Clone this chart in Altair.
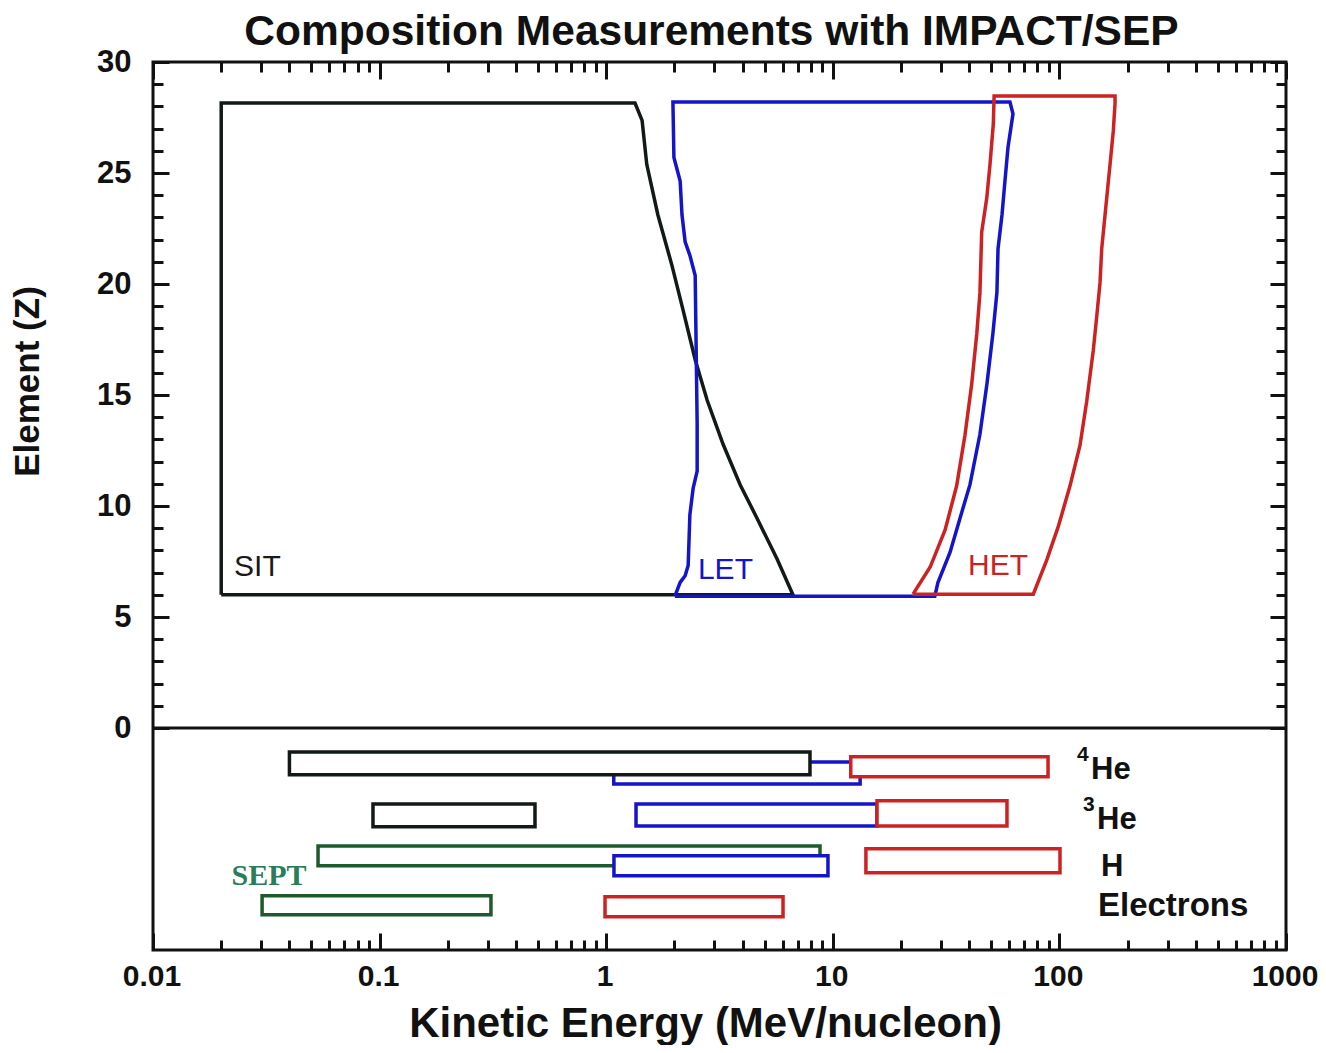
import altair as alt
import pandas as pd

# ---------------- data ----------------
# Upper panel: instrument coverage outlines, kinetic energy (MeV/nucleon) vs element Z
SIT_E = [0.02, 0.02, 1.34, 1.44, 1.51, 1.69, 1.95, 2.18, 2.47, 2.79, 3.28, 3.90, 4.63, 5.67, 6.67, 0.02]
SIT_Z = [6.0, 28.15, 28.15, 27.37, 25.39, 23.12, 20.84, 18.86, 16.59, 14.76, 12.78, 10.96, 9.45, 7.62, 6.0, 6.0]

LET_E = [2.01, 2.12, 2.23, 2.30, 2.34, 2.42, 2.52, 2.52, 2.47, 2.34, 2.23, 2.16, 2.12, 1.99, 1.97,
         60.5, 62.4, 59.3, 57.5, 55.8, 53.6, 53.0, 50.9, 47.9, 44.6, 40.3, 36.4, 32.9, 29.1, 28.2, 2.01]
LET_Z = [5.94, 6.56, 6.86, 7.32, 9.60, 10.81, 11.57, 13.70, 20.38, 21.29, 21.90, 23.12, 24.64, 25.70, 28.2,
         28.2, 27.67, 26.15, 24.63, 23.11, 21.59, 19.62, 17.79, 15.51, 13.23, 10.96, 9.44, 7.91, 6.55, 5.94, 5.94]

HET_E = [22.6, 26.9, 31.3, 35.2, 38.3, 41.0, 43.2, 44.6, 45.4, 47.8, 49.4, 51.1, 51.5,
         176.0, 176.0, 173.0, 167.3, 161.7, 153.7, 151.1, 146.1, 141.1, 132.0, 123.3, 111.4, 98.9, 87.9, 76.7, 22.6]
HET_Z = [6.03, 7.25, 8.92, 10.91, 13.19, 15.48, 17.77, 19.60, 22.34, 23.87, 25.39, 27.22, 28.47,
         28.47, 28.14, 26.92, 25.39, 23.87, 21.58, 20.06, 18.53, 17.01, 14.72, 12.74, 10.91, 9.08, 7.56, 6.03, 6.03]

# Lower panel: energy ranges for 4He, 3He, H and electrons (drawn in this order)
BOX_INST = ["LET", "SIT", "HET", "SIT", "LET", "HET", "SEPT", "LET", "HET", "SEPT", "HET"]
BOX_E1 = [1.08, 0.04, 12.0, 0.0935, 1.354, 15.67, 0.0535, 1.082, 14.0, 0.0303, 0.988]
BOX_E2 = [13.2, 7.93, 89.1, 0.485, 15.67, 58.7, 8.78, 9.52, 100.6, 0.310, 6.03]
BOX_Z1 = [-1.53, -1.08, -1.30, -3.42, -3.42, -3.28, -5.31, -5.76, -5.44, -7.56, -7.60]
BOX_Z2 = [-2.52, -2.11, -2.20, -4.45, -4.41, -4.41, -6.21, -6.66, -6.52, -8.41, -8.50]

INST_LABEL = ["SIT", "LET", "HET"]
INST_LABEL_E = [0.0228, 2.54, 39.5]
INST_LABEL_Z = [6.84, 6.70, 6.88]

SEPT_LABEL = ["SEPT"]
SEPT_LABEL_E = [0.0222]
SEPT_LABEL_Z = [-7.09]

ION_LABEL = ["He", "He", "H"]
ION_LABEL_E = [137.9, 146.6, 152.6]
ION_LABEL_Z = [-2.29, -4.54, -6.66]

ISOTOPE_LABEL = ["4", "3"]
ISOTOPE_LABEL_E = [119.6, 127.0]
ISOTOPE_LABEL_Z = [-2.29, -4.54]

ELECTRON_LABEL = ["Electrons"]
ELECTRON_LABEL_E = [148.0]
ELECTRON_LABEL_Z = [-8.46]

ZERO_LINE = [0]

X_MAJOR = [0.01, 0.1, 1, 10, 100, 1000]
X_MINOR = [round(m * 10 ** k, 6) for k in range(-2, 3) for m in range(2, 10)]
Y_MAJOR = [0, 5, 10, 15, 20, 25, 30]
Y_MINOR = list(range(0, 31))

TITLE = "Composition Measurements with IMPACT/SEP"
X_TITLE = "Kinetic Energy (MeV/nucleon)"
Y_TITLE = "Element (Z)"

INSTRUMENTS = ["SIT", "LET", "HET", "SEPT"]
STROKE_COLORS = ["#111a14", "#1414c8", "#cc2222", "#1e5a2c"]
TEXT_COLORS = ["#1a1a1a", "#1414c8", "#cc2222", "#2a7d5c"]

# ---------------- tables ----------------
rows = []
for inst, es, zs in [("SIT", SIT_E, SIT_Z), ("LET", LET_E, LET_Z), ("HET", HET_E, HET_Z)]:
    for i, (e, z) in enumerate(zip(es, zs)):
        rows.append({"inst": inst, "idx": i, "E": e, "Z": z})
line_df = pd.DataFrame(rows)
box_df = pd.DataFrame({"inst": BOX_INST, "E1": BOX_E1, "E2": BOX_E2, "Z1": BOX_Z1, "Z2": BOX_Z2})
lab_df = pd.DataFrame({"text": INST_LABEL, "inst": INST_LABEL, "E": INST_LABEL_E, "Z": INST_LABEL_Z})
sept_df = pd.DataFrame({"text": SEPT_LABEL, "E": SEPT_LABEL_E, "Z": SEPT_LABEL_Z})
ion_df = pd.DataFrame({"text": ION_LABEL, "E": ION_LABEL_E, "Z": ION_LABEL_Z})
iso_df = pd.DataFrame({"text": ISOTOPE_LABEL, "E": ISOTOPE_LABEL_E, "Z": ISOTOPE_LABEL_Z})
el_df = pd.DataFrame({"text": ELECTRON_LABEL, "E": ELECTRON_LABEL_E, "Z": ELECTRON_LABEL_Z})
zero_df = pd.DataFrame({"Z": ZERO_LINE})
dummy_df = pd.DataFrame({"E": [1.0], "Z": [0.0]})

W, H = 1133, 888
FONT = "Liberation Sans"
INK = "#111111"

xs = alt.Scale(type="log", domain=[0.01, 1000], nice=False)
ys = alt.Scale(domain=[-10, 30], nice=False, zero=False)
stroke_scale = alt.Scale(domain=INSTRUMENTS, range=STROKE_COLORS)

x_label_axis = alt.Axis(orient="bottom", values=X_MAJOR, format="~g", ticks=False, domain=False, grid=False,
                        labelFont=FONT, labelFontSize=30, labelFontWeight="bold", labelColor=INK,
                        labelPadding=11, labelFlush=False, labelOverlap=False, labelOffset=-1.5,
                        title=X_TITLE, titleFont=FONT, titleFontSize=42,
                        titleFontWeight="bold", titleColor=INK, titleX=552, titleY=86,
                        titleBaseline="alphabetic")
y_label_axis = alt.Axis(orient="left", values=Y_MAJOR, ticks=False, domain=False, grid=False,
                        labelFont=FONT, labelFontSize=31, labelFontWeight="bold", labelColor=INK,
                        labelPadding=22, labelFlush=False, labelOverlap=False,
                        title=Y_TITLE, titleFont=FONT, titleFontSize=35, titleFontWeight="bold",
                        titleColor=INK, titleX=-126, titleY=319, titleBaseline="middle")

lines = alt.Chart(line_df).mark_line(strokeWidth=3.5).encode(
    x=alt.X("E:Q", scale=xs, axis=x_label_axis),
    y=alt.Y("Z:Q", scale=ys, axis=y_label_axis),
    stroke=alt.Stroke("inst:N", scale=stroke_scale, legend=None),
    detail="inst:N",
    order="idx:Q",
)

boxes = alt.Chart(box_df).mark_rect(fill="white", strokeWidth=3.5).encode(
    x=alt.X("E1:Q", scale=xs, axis=None),
    x2="E2:Q",
    y=alt.Y("Z1:Q", scale=ys, axis=None),
    y2="Z2:Q",
    stroke=alt.Stroke("inst:N", scale=stroke_scale, legend=None),
)

zero_rule = alt.Chart(zero_df).mark_rule(color=INK, strokeWidth=3).encode(
    y=alt.Y("Z:Q", scale=ys, axis=None)
)


def text_layer(df, **mark):
    return alt.Chart(df).mark_text(align="left", baseline="alphabetic", **mark).encode(
        x=alt.X("E:Q", scale=xs, axis=None),
        y=alt.Y("Z:Q", scale=ys, axis=None),
        text="text:N",
    )


inst_text = text_layer(lab_df, font=FONT, fontSize=30).encode(
    color=alt.Color("inst:N", scale=alt.Scale(domain=INSTRUMENTS, range=TEXT_COLORS), legend=None)
)
sept_text = text_layer(sept_df, font="Liberation Serif", fontWeight="bold", fontSize=30, color="#2a7d5c")
ion_text = text_layer(ion_df, font=FONT, fontWeight="bold", fontSize=31, color=INK)
iso_text = text_layer(iso_df, font=FONT, fontWeight="bold", fontSize=21, color=INK, dy=-18)
el_text = text_layer(el_df, font=FONT, fontWeight="bold", fontSize=33, color=INK)

# main title carried by an otherwise empty top axis so its position is fixed
title_layer = alt.Chart(dummy_df).mark_point(opacity=0).encode(
    x=alt.X("E:Q", scale=xs, axis=alt.Axis(orient="top", ticks=False, labels=False, domain=False, grid=False,
                                           title=TITLE, titleFont=FONT, titleFontSize=42.5,
                                           titleFontWeight="bold", titleColor=INK, titleX=558,
                                           titleY=-18, titleBaseline="alphabetic")),
    y=alt.Y("Z:Q", scale=ys, axis=None),
)


def tick_layer(channel, orient, offset, values, size):
    ax = alt.Axis(orient=orient, offset=offset, values=values, tickSize=size, tickWidth=3, tickColor=INK,
                  labels=False, domain=False, grid=False, title=None)
    if channel == "x":
        enc = dict(x=alt.X("E:Q", scale=xs, axis=ax), y=alt.Y("Z:Q", scale=ys, axis=None))
    else:
        enc = dict(x=alt.X("E:Q", scale=xs, axis=None), y=alt.Y("Z:Q", scale=ys, axis=ax))
    return alt.Chart(dummy_df).mark_point(opacity=0).encode(**enc)


ticks = [
    tick_layer("y", "right", -W, Y_MINOR, 10),   # left edge, inward
    tick_layer("y", "right", -W, Y_MAJOR, 16),
    tick_layer("y", "left", -W, Y_MINOR, 10),    # right edge, inward
    tick_layer("y", "left", -W, Y_MAJOR, 16),
    tick_layer("x", "bottom", -H, X_MINOR, 10),  # top edge, inward
    tick_layer("x", "bottom", -H, X_MAJOR, 17),
    tick_layer("x", "top", -H, X_MINOR, 10),     # bottom edge, inward
    tick_layer("x", "top", -H, X_MAJOR, 17),
]

chart = alt.layer(boxes, lines, zero_rule, inst_text, sept_text, ion_text, iso_text, el_text, title_layer,
                  *ticks).resolve_scale(
    x="shared", y="shared"
).resolve_axis(x="independent", y="independent").properties(
    width=W,
    height=H,
    padding={"left": 145, "top": 54, "right": 32, "bottom": 95},
    autosize=alt.AutoSizeParams(type="none"),
).configure_view(stroke=INK, strokeWidth=3)

chart.save("out.html", embed_options={"renderer": "svg", "actions": False})
